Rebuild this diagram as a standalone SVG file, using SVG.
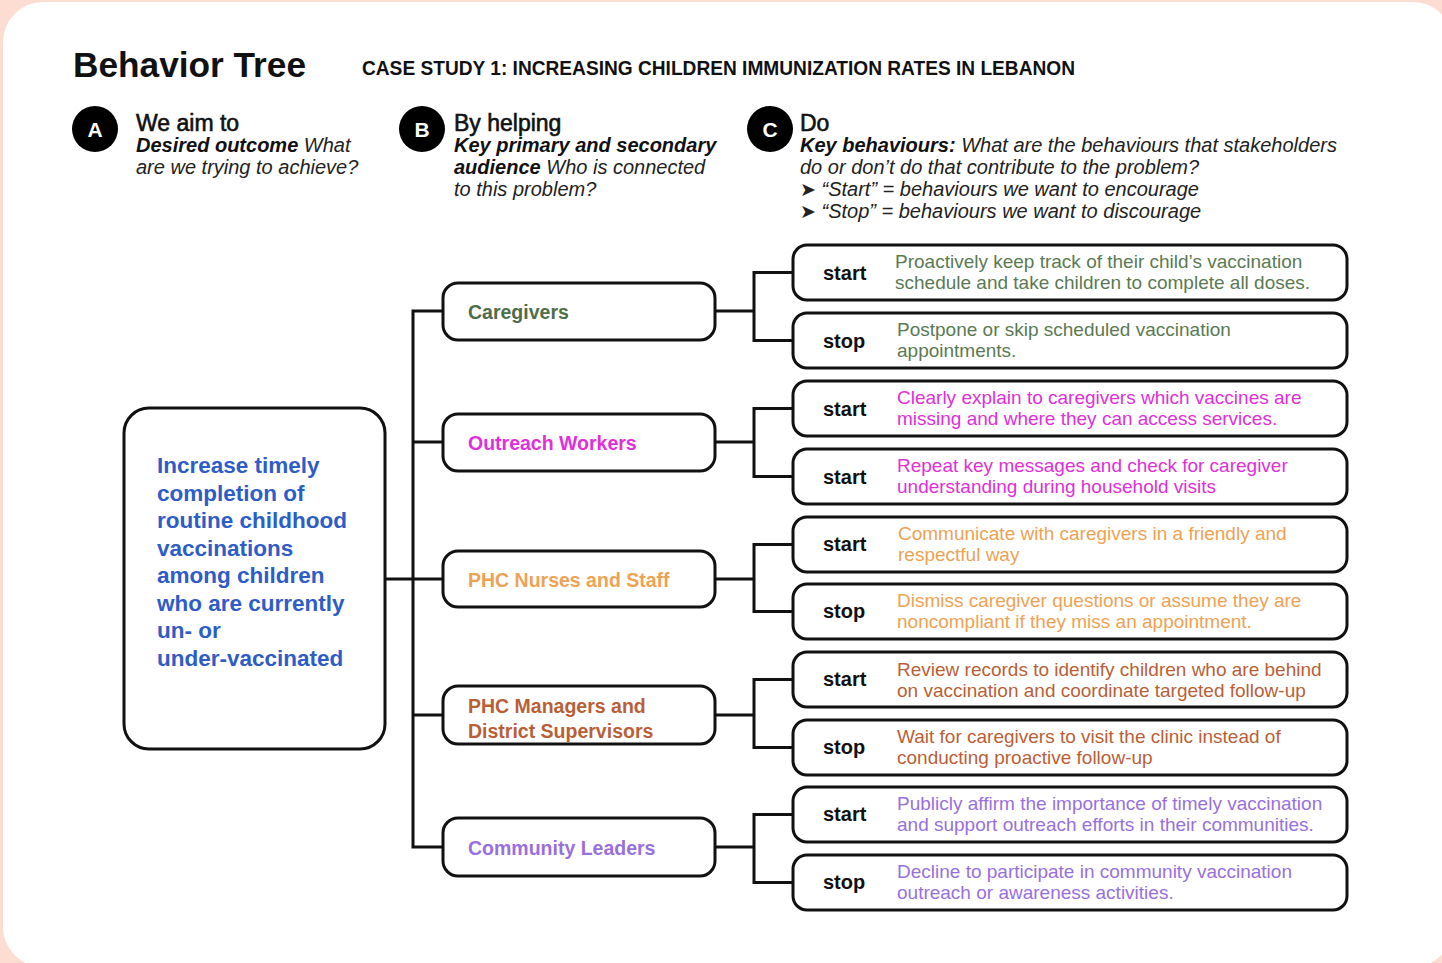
<svg xmlns="http://www.w3.org/2000/svg" width="1442" height="963" viewBox="0 0 1442 963">
<style>
text{font-family:"Liberation Sans",Arial,sans-serif;}
.bx{fill:#fff;stroke:#111;stroke-width:3;}
.cn{fill:none;stroke:#111;stroke-width:3;stroke-linecap:square;}
.lbl{font-size:20px;font-weight:bold;fill:#111;}
.desc{font-size:19px;}
.aud{font-size:19.5px;font-weight:bold;}
.hd{font-size:23px;fill:#111;stroke:#111;stroke-width:0.6;}
.sub{font-size:20px;font-style:italic;fill:#222;}
.bi{font-weight:bold;fill:#111;}
.circ{fill:#000;}
.cl{font-size:21px;font-weight:bold;fill:#fff;text-anchor:middle;}
.goal{font-size:22.5px;font-weight:bold;fill:#2e5cc8;}
.green{fill:#5a7a53;}
.mag{fill:#e030d8;}
.org{fill:#eea254;}
.brn{fill:#b95f38;}
.pur{fill:#9870de;}
.arr{font-family:"DejaVu Sans",sans-serif;font-style:normal;font-size:19px;}
</style>
<rect x="0" y="0" width="1442" height="963" fill="#fddcd2"/>
<rect x="3" y="2" width="1450" height="965" rx="40" fill="#fff"/>

<g id="header">
<text x="73" y="77" font-size="35" font-weight="bold" fill="#111" textLength="233" lengthAdjust="spacingAndGlyphs">Behavior Tree</text>
<text x="362" y="75" font-size="20" font-weight="bold" fill="#111" textLength="713" lengthAdjust="spacingAndGlyphs">CASE STUDY 1: INCREASING CHILDREN IMMUNIZATION RATES IN LEBANON</text>
</g>

<g id="colA">
<circle class="circ" cx="95" cy="129" r="23"/>
<text class="cl" x="95" y="137">A</text>
<text class="hd" x="136" y="131">We aim to</text>
<text class="sub" x="136" y="152"><tspan class="bi">Desired outcome</tspan> What</text>
<text class="sub" x="136" y="174">are we trying to achieve?</text>
</g>

<g id="colB">
<circle class="circ" cx="422" cy="129" r="23"/>
<text class="cl" x="422" y="137">B</text>
<text class="hd" x="454" y="131">By helping</text>
<text class="sub" x="454" y="152"><tspan class="bi">Key primary and secondary</tspan></text>
<text class="sub" x="454" y="174"><tspan class="bi">audience</tspan> Who is connected</text>
<text class="sub" x="454" y="196">to this problem?</text>
</g>

<g id="colC">
<circle class="circ" cx="770" cy="129" r="23"/>
<text class="cl" x="770" y="137">C</text>
<text class="hd" x="800" y="131">Do</text>
<text class="sub" x="800" y="152"><tspan class="bi">Key behaviours:</tspan> What are the behaviours that stakeholders</text>
<text class="sub" x="800" y="174">do or don’t do that contribute to the problem?</text>
<text class="sub" x="800" y="196"><tspan class="arr">➤</tspan> “Start” = behaviours we want to encourage</text>
<text class="sub" x="800" y="218"><tspan class="arr">➤</tspan> “Stop” = behaviours we want to discourage</text>
</g>

<g id="connectors">
<path class="cn" d="M385 579H413M413 311V847M413 311H443M413 442H443M413 579H443M413 715H443M413 847H443"/>
<path class="cn" d="M715 311H754M754 272.5V340.5M754 272.5H793M754 340.5H793"/>
<path class="cn" d="M715 442H754M754 408.5V476.5M754 408.5H793M754 476.5H793"/>
<path class="cn" d="M715 579H754M754 544.5V611.5M754 544.5H793M754 611.5H793"/>
<path class="cn" d="M715 715H754M754 679.5V747.5M754 679.5H793M754 747.5H793"/>
<path class="cn" d="M715 847H754M754 814.5V882.5M754 814.5H793M754 882.5H793"/>
</g>

<g id="goal">
<rect class="bx" x="124" y="408" width="261" height="341" rx="25"/>
<text class="goal" x="157" y="473">Increase timely</text>
<text class="goal" x="157" y="500.5">completion of</text>
<text class="goal" x="157" y="528">routine childhood</text>
<text class="goal" x="157" y="555.5">vaccinations</text>
<text class="goal" x="157" y="583">among children</text>
<text class="goal" x="157" y="610.5">who are currently</text>
<text class="goal" x="157" y="638">un- or</text>
<text class="goal" x="157" y="665.5">under-vaccinated</text>
</g>

<g id="aud-caregivers">
<rect class="bx" x="443" y="283" width="272" height="57" rx="15"/>
<text class="aud" x="468" y="319" fill="#4f6d48">Caregivers</text>
</g>
<g id="aud-outreach">
<rect class="bx" x="443" y="414" width="272" height="57" rx="15"/>
<text class="aud mag" x="468" y="450">Outreach Workers</text>
</g>
<g id="aud-nurses">
<rect class="bx" x="443" y="551" width="272" height="56" rx="15"/>
<text class="aud org" x="468" y="587">PHC Nurses and Staff</text>
</g>
<g id="aud-managers">
<rect class="bx" x="443" y="686" width="272" height="58" rx="15"/>
<text class="aud brn" x="468" y="713">PHC Managers and</text>
<text class="aud brn" x="468" y="738">District Supervisors</text>
</g>
<g id="aud-leaders">
<rect class="bx" x="443" y="818" width="272" height="58" rx="15"/>
<text class="aud pur" x="468" y="855">Community Leaders</text>
</g>

<g id="b1">
<rect class="bx" x="793" y="245" width="554" height="55" rx="14"/>
<text class="lbl" x="823" y="280">start</text>
<text class="desc green" x="895" y="268">Proactively keep track of their child’s vaccination</text>
<text class="desc green" x="895" y="289">schedule and take children to complete all doses.</text>
</g>
<g id="b2">
<rect class="bx" x="793" y="313" width="554" height="55" rx="14"/>
<text class="lbl" x="823" y="348">stop</text>
<text class="desc green" x="897" y="336">Postpone or skip scheduled vaccination</text>
<text class="desc green" x="897" y="357">appointments.</text>
</g>
<g id="b3">
<rect class="bx" x="793" y="381" width="554" height="55" rx="14"/>
<text class="lbl" x="823" y="416">start</text>
<text class="desc mag" x="897" y="404">Clearly explain to caregivers which vaccines are</text>
<text class="desc mag" x="897" y="425">missing and where they can access services.</text>
</g>
<g id="b4">
<rect class="bx" x="793" y="449" width="554" height="55" rx="14"/>
<text class="lbl" x="823" y="484">start</text>
<text class="desc mag" x="897" y="472">Repeat key messages and check for caregiver</text>
<text class="desc mag" x="897" y="493">understanding during household visits</text>
</g>
<g id="b5">
<rect class="bx" x="793" y="517" width="554" height="55" rx="14"/>
<text class="lbl" x="823" y="551">start</text>
<text class="desc org" x="898" y="540">Communicate with caregivers in a friendly and</text>
<text class="desc org" x="898" y="561">respectful way</text>
</g>
<g id="b6">
<rect class="bx" x="793" y="584" width="554" height="55" rx="14"/>
<text class="lbl" x="823" y="618">stop</text>
<text class="desc org" x="897" y="607">Dismiss caregiver questions or assume they are</text>
<text class="desc org" x="897" y="628">noncompliant if they miss an appointment.</text>
</g>
<g id="b7">
<rect class="bx" x="793" y="652" width="554" height="55" rx="14"/>
<text class="lbl" x="823" y="686">start</text>
<text class="desc brn" x="897" y="676">Review records to identify children who are behind</text>
<text class="desc brn" x="897" y="697">on vaccination and coordinate targeted follow-up</text>
</g>
<g id="b8">
<rect class="bx" x="793" y="720" width="554" height="55" rx="14"/>
<text class="lbl" x="823" y="754">stop</text>
<text class="desc brn" x="897" y="743">Wait for caregivers to visit the clinic instead of</text>
<text class="desc brn" x="897" y="764">conducting proactive follow-up</text>
</g>
<g id="b9">
<rect class="bx" x="793" y="787" width="554" height="55" rx="14"/>
<text class="lbl" x="823" y="821">start</text>
<text class="desc pur" x="897" y="810">Publicly affirm the importance of timely vaccination</text>
<text class="desc pur" x="897" y="831">and support outreach efforts in their communities.</text>
</g>
<g id="b10">
<rect class="bx" x="793" y="855" width="554" height="55" rx="14"/>
<text class="lbl" x="823" y="889">stop</text>
<text class="desc pur" x="897" y="878">Decline to participate in community vaccination</text>
<text class="desc pur" x="897" y="899">outreach or awareness activities.</text>
</g>
</svg>
